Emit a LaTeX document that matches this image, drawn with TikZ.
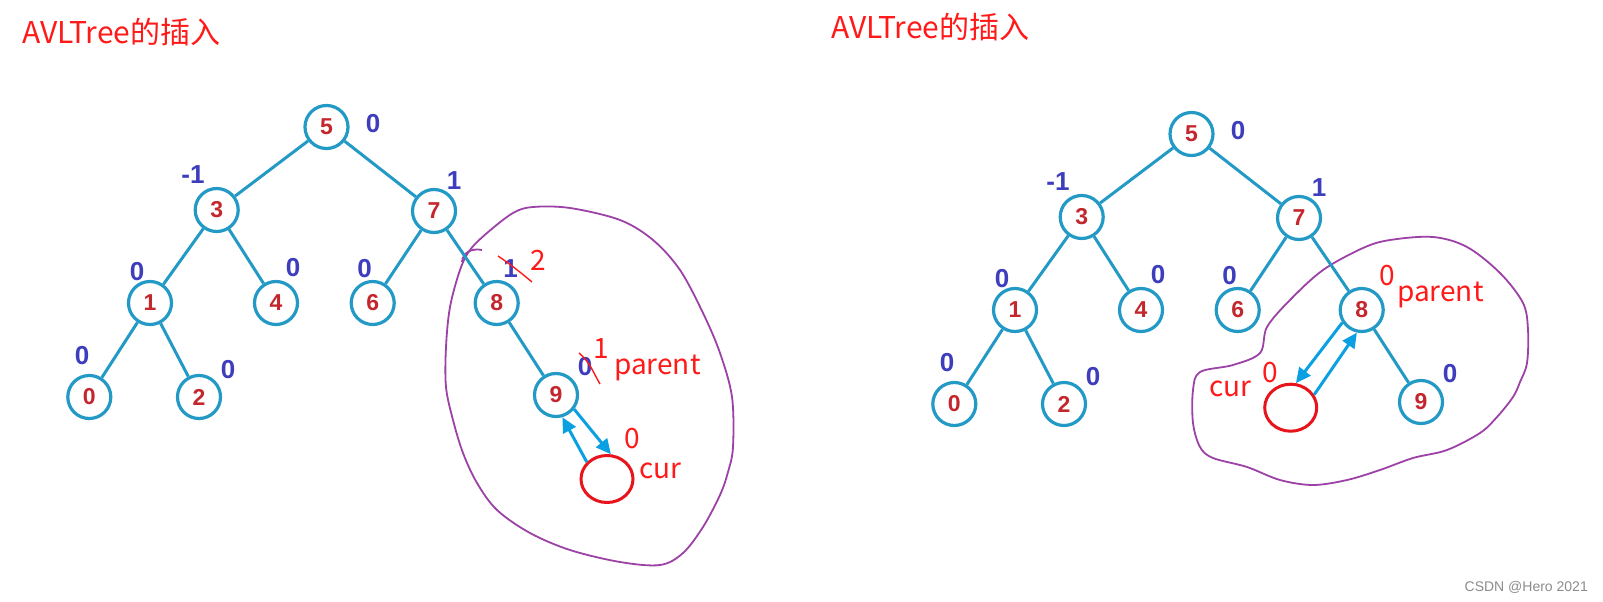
\documentclass[tikz,border=0pt]{standalone}
\usepackage{fontspec}
\setmainfont{Liberation Sans}
\newfontfamily\cjk{Noto Sans CJK SC}
\newfontfamily\wmfont{Liberation Sans}
\usetikzlibrary{shapes.geometric,arrows.meta}
\definecolor{edgec}{HTML}{2399C6}
\definecolor{numc}{HTML}{C4262E}
\definecolor{balc}{HTML}{3D3DBD}
\definecolor{annc}{HTML}{FF1A1A}
\definecolor{blobc}{HTML}{9C42A6}
\definecolor{arrc}{HTML}{0AA0E2}
\definecolor{curc}{HTML}{E8141C}
\tikzset{
 tn/.style={circle,draw=edgec,line width=3.2pt,fill=white,minimum size=43pt,inner sep=0pt,text=numc,font=\bfseries\fontsize{23}{23}\selectfont},
 tedge/.style={draw=edgec,line width=3pt},
 bal/.style={text=balc,font=\bfseries\fontsize{26}{26}\selectfont,inner sep=0pt},
 ann/.style={text=annc,font=\cjk\fontsize{28}{28}\selectfont,inner sep=0pt},
 ttl/.style={text=annc,font=\cjk\fontsize{30}{30}\selectfont,inner sep=0pt,anchor=base west},
 blob/.style={draw=blobc,line width=1.8pt},
 curn/.style={ellipse,draw=curc,line width=3pt,minimum width=52pt,minimum height=47pt,inner sep=0pt},
 arr/.style={draw=arrc,line width=3pt,-{Triangle[length=15pt,width=14pt]}},
 strike/.style={draw=annc,line width=1.4pt},
}
\newcommand\avltree[2]{%
\begin{scope}[shift={#2}]
 \node[tn] (#1n5) at (326.5,127) {5};
 \node[tn] (#1n3) at (216.7,210) {3};
 \node[tn] (#1n7) at (434,211) {7};
 \node[tn] (#1n1) at (150,303) {1};
 \node[tn] (#1n4) at (276,303) {4};
 \node[tn] (#1n6) at (372.7,303) {6};
 \node[tn] (#1n8) at (496.7,303) {8};
 \node[tn] (#1n0) at (89.3,397) {0};
 \node[tn] (#1n2) at (199,397) {2};
 \node[tn] (#1n9) at (556,395) {9};
 \draw[tedge] (#1n5) -- (#1n3);
 \draw[tedge] (#1n5) -- (#1n7);
 \draw[tedge] (#1n3) -- (#1n1);
 \draw[tedge] (#1n3) -- (#1n4);
 \draw[tedge] (#1n1) -- (#1n0);
 \draw[tedge] (#1n1) -- (#1n2);
 \draw[tedge] (#1n7) -- (#1n6);
 \draw[tedge] (#1n7) -- (#1n8);
 \draw[tedge] (#1n8) -- (#1n9);
 \node[bal] (#1b5) at (373,124) {0};
 \node[bal] (#1b3) at (193,175) {-1};
 \node[bal] (#1b7) at (454,181) {1};
 \node[bal] (#1b1) at (137,272) {0};
 \node[bal] (#1b4) at (293,268) {0};
 \node[bal] (#1b6) at (364.5,269) {0};
 \node[bal] (#1b0) at (82,356) {0};
 \node[bal] (#1b2) at (228,370) {0};
 \node[bal] (#1b9) at (585,367) {0};
\end{scope}}
\begin{document}
\begin{tikzpicture}[x=1pt,y=-1pt]
\fill[white] (0,0) rectangle (1603,602);
\useasboundingbox (0,0) rectangle (1603,602);
% titles
\node[ttl] (Ltitle) at (22,44) {AVLTree的插入};
\node[ttl] (Rtitle) at (831,39) {AVLTree的插入};
% blobs
\draw[blob] plot[smooth cycle, tension=0.55] coordinates {(533,207) (570,208) (620,220) (653,240) (680,270) (703,313) (720,353) (732,397) (733,447) (728,472) (720,495) (703,527) (683,553) (660,565) (620,562) (570,550) (530,533) (497,510) (477,483) (463,453) (453,420) (446,387) (446,347) (450,307) (460,270) (470,250) (487,233) (513,213)};
\draw[blob] (462,262) .. controls (463,252) and (472,248) .. (482,250);
\draw[blob] plot[smooth cycle, tension=0.55] coordinates {(1363,248) (1390,240) (1433,237) (1467,247) (1500,273) (1523,303) (1528,330) (1527,363) (1520,382) (1513,397) (1497,417) (1480,433) (1447,450) (1413,458) (1380,470) (1347,480) (1313,485) (1280,480) (1247,467) (1213,458) (1200,447) (1193,423) (1193,390) (1200,372) (1233,365) (1260,353) (1267,327) (1290,300) (1323,270)};
% trees
\avltree{L}{(0,0)}
\avltree{R}{(865,7)}
% left annotations
\node[bal] (Lb8) at (510.5,269) {1};
\draw[strike] (498,256) .. controls (510,264) and (520,272) .. (532,282);
\node[ann,anchor=base west] (Lnew8) at (530,270) {2};
\draw[strike] (579,353) .. controls (590,362) and (594,374) .. (600,384);
\node[ann,anchor=base] (Lnew9) at (601.5,358) {1};
\node[ann,anchor=base west] (Lpar) at (614,374) {parent};
\node[curn] (Lcur) at (607,479) {};
\node[ann,anchor=base west] (Lzero) at (624,448) {0};
\node[ann,anchor=base west] (Lcurt) at (639,478) {cur};
\draw[arr] (Lcur.140) -- (Ln9.-74);
\draw[arr] (Ln9.-38) -- (Lcur.81);
% right annotations
\node[ann,anchor=base west] (Rnew8) at (1379,285) {0};
\node[ann,anchor=base west] (Rpar) at (1397,301) {parent};
\node[curn] (Rcur) at (1290.7,407.7) {};
\node[ann,anchor=base west] (Rzero) at (1262,382) {0};
\node[ann,anchor=base west] (Rcurt) at (1209,396) {cur};
\draw[arr] (Rn8.213) -- (Rcur.78);
\draw[arr] (Rcur.29) -- (Rn8.258);
% watermark
\node[text=black!45,font=\wmfont\fontsize{14}{14}\selectfont,inner sep=0pt,anchor=base east] (wm) at (1588,591) {CSDN @Hero 2021};
\end{tikzpicture}
\end{document}
